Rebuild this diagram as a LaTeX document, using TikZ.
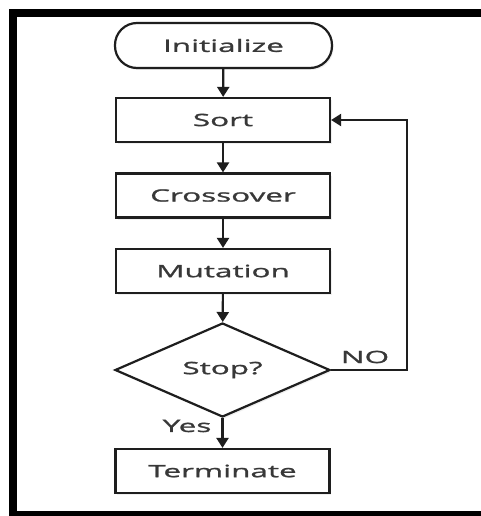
\documentclass[tikz,border=0pt]{standalone}
\usepackage{fontspec}
\setmainfont[FakeStretch=1.85, FakeBold=1.4]{Open Sans}
\usetikzlibrary{shapes.geometric,arrows.meta,shadows}
\definecolor{inkline}{HTML}{1E1E1E}
\definecolor{inktext}{HTML}{383838}
\tikzset{
  base/.style={draw=inkline, line width=2.2pt, fill=white, text=inktext,
    font=\fontsize{17}{19}\selectfont, inner sep=0pt, align=center,
    drop shadow={opacity=0.12, shadow xshift=1.5pt, shadow yshift=-2pt}},
  procbox/.style={base, rectangle, minimum width=214pt, minimum height=44pt},
  startbox/.style={base, rectangle, rounded corners=22pt, minimum width=217pt, minimum height=45pt},
  decision/.style={base, diamond, aspect=2.29, minimum width=215pt, minimum height=94pt},
  flow/.style={draw=inkline, line width=2.2pt, -{Triangle[width=12pt,length=10pt]}},
  lbl/.style={text=inktext, font=\fontsize{17}{19}\selectfont, inner sep=0pt}
}
\begin{document}
\begin{tikzpicture}[x=1pt, y=-1pt]
  \fill[white] (0,0) rectangle (481,516);
  \useasboundingbox (0,0) rectangle (481,516);
  % outer frame: left, top and bottom edges; the right edge lies past the page
  \fill[black] (9,9) rectangle (481,17);
  \fill[black] (9,9) rectangle (17,516);
  \fill[black] (9,511) rectangle (481,516);

  \node[startbox] (init) at (223.5,45.5) {Initialize};
  \node[procbox]  (sort) at (223,120) {Sort};
  \node[procbox]  (cross) at (223,195.5) {Crossover};
  \node[procbox]  (mut) at (223,271) {Mutation};
  \node[decision] (stop) at (222.5,370) {Stop?};
  \node[procbox]  (term) at (222.5,471) {Terminate};

  \coordinate (loopx) at (407,0);

  \draw[flow] (init) -- (sort);
  \draw[flow] (sort) -- (cross);
  \draw[flow] (cross) -- (mut);
  \draw[flow] (mut) -- (stop);
  \draw[flow] (stop) -- (term);
  \draw[flow] (stop.east) -- (stop.east -| loopx) |- (sort.east);

  \node[lbl] (no) at (365,357) {NO};
  \node[lbl] (yes) at (187,426) {Yes};
\end{tikzpicture}
\end{document}
